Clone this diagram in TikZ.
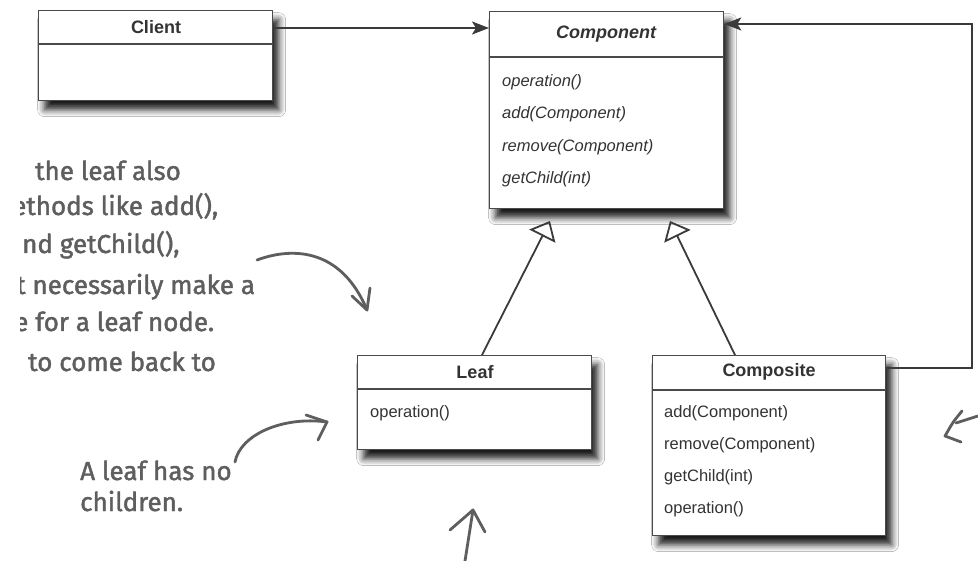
\documentclass[tikz,border=0pt]{standalone}
\usepackage{fontspec}
\setmainfont{Liberation Sans}
\newfontfamily\handfont{Fira Sans}[FakeBold=1.6]
\usetikzlibrary{arrows.meta,shadows.blur,calc}

\definecolor{boxgray}{HTML}{4A4A4A}
\definecolor{textgray}{HTML}{333333}
\definecolor{linegray}{HTML}{3A3A3A}
\definecolor{handgray}{HTML}{5E5E5E}

\begin{document}
\begin{tikzpicture}[x=1pt,y=-1pt,
  umlbox/.style={draw=boxgray, line width=1.3pt, fill=white, anchor=north west, inner sep=0pt,
    blur shadow={shadow xshift=6pt, shadow yshift=-9pt, shadow blur radius=7pt, shadow opacity=90}},
  divider/.style={draw=boxgray, line width=1.3pt},
  classname/.style={font=\fontsize{18}{20}\selectfont\bfseries, text=textgray, inner sep=0pt},
  method/.style={font=\fontsize{16.5}{18}\selectfont, text=textgray, anchor=west, inner sep=0pt},
  abstractmethod/.style={method, font=\fontsize{16.5}{18}\selectfont\itshape},
  assoc/.style={draw=linegray, line width=2pt, -{Stealth[length=17pt,width=13pt,inset=4pt]}},
  generalize/.style={draw=linegray, line width=1.8pt,
    -{Triangle[open, length=17pt, width=29pt, line width=1.8pt]}},
  note/.style={font=\handfont\fontsize{26}{28}\selectfont, text=handgray, anchor=base west, inner sep=0pt},
  scribble/.style={draw=handgray, line width=2.8pt, line cap=round, line join=round},
]
\useasboundingbox[fill=white] (0,0) rectangle (978,561);

% ---- class boxes ----
\node[umlbox, minimum width=234pt, minimum height=90pt]  (client)    at (38,10)   {};
\node[umlbox, minimum width=234pt, minimum height=197pt] (component) at (489,11)  {};
\node[umlbox, minimum width=234pt, minimum height=94pt]  (leaf)      at (357,355) {};
\node[umlbox, minimum width=233pt, minimum height=180pt] (composite) at (652,355) {};

% compartment dividers
\draw[divider] (client.west |- 0,44)    -- (client.east |- 0,44);
\draw[divider] (component.west |- 0,57) -- (component.east |- 0,57);
\draw[divider] (leaf.west |- 0,389)     -- (leaf.east |- 0,389);
\draw[divider] (composite.west |- 0,390) -- (composite.east |- 0,390);

% class names
\node[classname] (clientName)    at (156,27)  {Client};
\node[classname, font=\fontsize{18}{20}\selectfont\bfseries\itshape] (componentName) at (606,34) {Component};
\node[classname] (leafName)      at (475,372) {Leaf};
\node[classname] (compositeName) at (769,372) {Composite};

% operations
\node[abstractmethod] (cOp)     at (502,82)  {operation()};
\node[abstractmethod] (cAdd)    at (502,114) {add(Component)};
\node[abstractmethod] (cRemove) at (502,147) {remove(Component)};
\node[abstractmethod] (cChild)  at (502,179) {getChild(int)};
\node[method] (lOp)     at (370,413) {operation()};
\node[method] (kAdd)    at (664,413) {add(Component)};
\node[method] (kRemove) at (664,445) {remove(Component)};
\node[method] (kChild)  at (664,477) {getChild(int)};
\node[method] (kOp)     at (664,509) {operation()};

% ---- connectors ----
\draw[assoc] (client.east |- 0,28) -- (component.west |- 0,28);

\coordinate (loopLow)  at (972,368);
\coordinate (loopHigh) at (972,24);
\draw[assoc] (composite.east |- loopLow) -- (loopLow) -- (loopHigh) -- (component.east |- loopHigh);

\coordinate (leafTip) at (550,221);
\coordinate (compTip) at (670,221);
\draw[generalize] ($(leaf.north west)+(125,0)$) -- (leafTip);
\draw[generalize] ($(composite.north west)+(83,0)$) -- (compTip);

% ---- handwritten notes ----
\begin{scope}
  \clip (20,140) rectangle (420,400);
  \node[note] (n1) at (35,180) {the leaf also};
  \node[note] (n2) at (12,215) {ethods like add(),};
  \node[note] (n3) at (22,253) {nd getChild(),};
  \node[note] (n4) at (16,294) {t necessarily make a};
  \node[note] (n5) at (14,331) {e for a leaf node.};
  \node[note] (n6) at (28,371) {to come back to};
\end{scope}
\node[note] (n7) at (80,480) {A leaf has no};
\node[note] (n8) at (80,511) {children.};

% ---- hand-drawn arrows ----
\coordinate (aTip) at (367,310);
\draw[scribble] (257,260) .. controls (295,246) and (342,250) .. (aTip);
\draw[scribble] (352,296) -- (aTip) -- (370,288);

\coordinate (bTip) at (327,422);
\draw[scribble] (235,462) .. controls (240,435) and (282,416) .. (bTip);
\draw[scribble] (306,415) -- (bTip) -- (318,440);

\coordinate (cTip) at (473,510);
\draw[scribble] (465,561) -- (cTip);
\draw[scribble] (450,530) -- (cTip) -- (485,532);

\coordinate (dTip) at (945,436);
\draw[scribble] (978,416) -- (956,423);
\draw[scribble] (962,411) .. controls (953,422) .. (dTip) -- (961,442);
\end{tikzpicture}
\end{document}
